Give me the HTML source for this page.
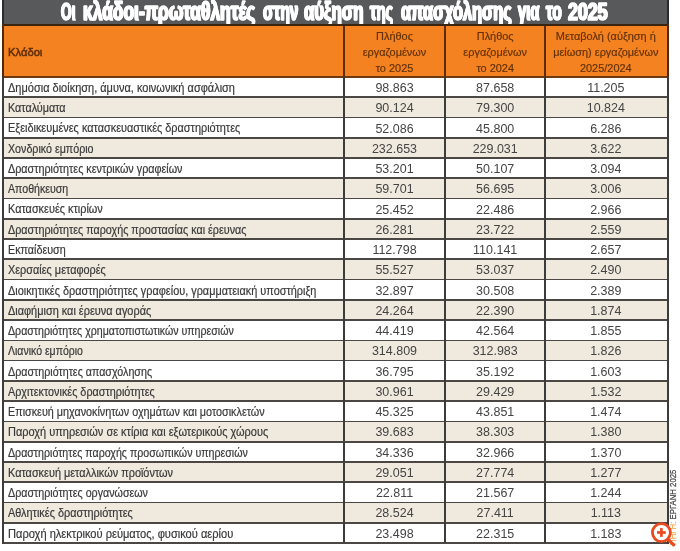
<!DOCTYPE html>
<html><head><meta charset="utf-8"><title>table</title>
<style>
html,body{margin:0;padding:0;background:#fff;}
body{filter:blur(0.45px);width:680px;height:551px;position:relative;overflow:hidden;font-family:"Liberation Sans",sans-serif;}
.a{position:absolute;}
.t{position:absolute;white-space:nowrap;color:#3a3a3a;font-size:12px;line-height:20px;height:20px;}
.l{transform-origin:0 50%;transform:scaleX(0.912);left:8px;-webkit-text-stroke:0.2px #3a3a3a;}
.n{text-align:center;transform:scaleX(1.04);color:#444;}
.h{position:absolute;white-space:nowrap;color:#63320a;font-size:11.5px;line-height:16px;text-align:center;transform:scaleX(0.95);-webkit-text-stroke:0.2px #63320a;}
.tw{top:-2.8px;height:28px;line-height:28px;white-space:nowrap;color:#fff;font-weight:bold;font-size:25px;transform-origin:0 50%;-webkit-text-stroke:1.5px #fff;text-shadow:1.1px 0 #fff,-1.1px 0 #fff;}
.ln{position:absolute;background:#4a4744;}
</style></head><body>

<div class="a" style="left:3px;top:0;width:665px;height:25px;background:#58595b"></div>
<div class="a tw" id="tw0" style="left:61.48px;transform:scaleX(0.5761)"><span style='font-size:23.5px'>Ο</span>ι</div>
<div class="a tw" id="tw1" style="left:82.56px;transform:scaleX(0.6962)">κλάδοι-πρωταθλητές</div>
<div class="a tw" id="tw2" style="left:262.67px;transform:scaleX(0.6155)">στην</div>
<div class="a tw" id="tw3" style="left:304.34px;transform:scaleX(0.6721)">αύξηση</div>
<div class="a tw" id="tw4" style="left:370.35px;transform:scaleX(0.5857)">της</div>
<div class="a tw" id="tw5" style="left:401.00px;transform:scaleX(0.6528)">απασχόλησης</div>
<div class="a tw" id="tw6" style="left:518.27px;transform:scaleX(0.5926)">για</div>
<div class="a tw" id="tw7" style="left:546.04px;transform:scaleX(0.6110)">το</div>
<div class="a tw" id="tw8" style="left:568.21px;transform:scaleX(0.7572)"><span style='font-size:23.5px'>2025</span></div>
<div class="a" style="left:3px;top:25px;width:665px;height:52px;background:#f58220"></div>
<div class="a" style="left:3px;top:77.00px;width:665px;height:20.76px;background:#fff"></div>
<div class="a" style="left:3px;top:97.26px;width:665px;height:20.76px;background:#f0e9de"></div>
<div class="a" style="left:3px;top:117.52px;width:665px;height:20.76px;background:#fff"></div>
<div class="a" style="left:3px;top:137.78px;width:665px;height:20.76px;background:#f0e9de"></div>
<div class="a" style="left:3px;top:158.04px;width:665px;height:20.76px;background:#fff"></div>
<div class="a" style="left:3px;top:178.30px;width:665px;height:20.76px;background:#f0e9de"></div>
<div class="a" style="left:3px;top:198.56px;width:665px;height:20.76px;background:#fff"></div>
<div class="a" style="left:3px;top:218.82px;width:665px;height:20.76px;background:#f0e9de"></div>
<div class="a" style="left:3px;top:239.08px;width:665px;height:20.76px;background:#fff"></div>
<div class="a" style="left:3px;top:259.34px;width:665px;height:20.76px;background:#f0e9de"></div>
<div class="a" style="left:3px;top:279.60px;width:665px;height:20.76px;background:#fff"></div>
<div class="a" style="left:3px;top:299.86px;width:665px;height:20.76px;background:#f0e9de"></div>
<div class="a" style="left:3px;top:320.12px;width:665px;height:20.76px;background:#fff"></div>
<div class="a" style="left:3px;top:340.38px;width:665px;height:20.76px;background:#f0e9de"></div>
<div class="a" style="left:3px;top:360.64px;width:665px;height:20.76px;background:#fff"></div>
<div class="a" style="left:3px;top:380.90px;width:665px;height:20.76px;background:#f0e9de"></div>
<div class="a" style="left:3px;top:401.16px;width:665px;height:20.76px;background:#fff"></div>
<div class="a" style="left:3px;top:421.42px;width:665px;height:20.76px;background:#f0e9de"></div>
<div class="a" style="left:3px;top:441.68px;width:665px;height:20.76px;background:#fff"></div>
<div class="a" style="left:3px;top:461.94px;width:665px;height:20.76px;background:#f0e9de"></div>
<div class="a" style="left:3px;top:482.20px;width:665px;height:20.76px;background:#fff"></div>
<div class="a" style="left:3px;top:502.46px;width:665px;height:20.76px;background:#f0e9de"></div>
<div class="a" style="left:3px;top:522.72px;width:665px;height:20.76px;background:#fff"></div>
<div class="ln" style="left:3px;top:23.6px;width:665px;height:2px;background:#3a2410"></div>
<div class="ln" style="left:3px;top:76.1px;width:665px;height:1.8px;background:#6e3a12"></div>
<div class="ln" style="left:3px;top:96.41px;width:665px;height:1.7px"></div>
<div class="ln" style="left:3px;top:116.67px;width:665px;height:1.7px"></div>
<div class="ln" style="left:3px;top:136.93px;width:665px;height:1.7px"></div>
<div class="ln" style="left:3px;top:157.19px;width:665px;height:1.7px"></div>
<div class="ln" style="left:3px;top:177.45px;width:665px;height:1.7px"></div>
<div class="ln" style="left:3px;top:197.71px;width:665px;height:1.7px"></div>
<div class="ln" style="left:3px;top:217.97px;width:665px;height:1.7px"></div>
<div class="ln" style="left:3px;top:238.23px;width:665px;height:1.7px"></div>
<div class="ln" style="left:3px;top:258.49px;width:665px;height:1.7px"></div>
<div class="ln" style="left:3px;top:278.75px;width:665px;height:1.7px"></div>
<div class="ln" style="left:3px;top:299.01px;width:665px;height:1.7px"></div>
<div class="ln" style="left:3px;top:319.27px;width:665px;height:1.7px"></div>
<div class="ln" style="left:3px;top:339.53px;width:665px;height:1.7px"></div>
<div class="ln" style="left:3px;top:359.79px;width:665px;height:1.7px"></div>
<div class="ln" style="left:3px;top:380.05px;width:665px;height:1.7px"></div>
<div class="ln" style="left:3px;top:400.31px;width:665px;height:1.7px"></div>
<div class="ln" style="left:3px;top:420.57px;width:665px;height:1.7px"></div>
<div class="ln" style="left:3px;top:440.83px;width:665px;height:1.7px"></div>
<div class="ln" style="left:3px;top:461.09px;width:665px;height:1.7px"></div>
<div class="ln" style="left:3px;top:481.35px;width:665px;height:1.7px"></div>
<div class="ln" style="left:3px;top:501.61px;width:665px;height:1.7px"></div>
<div class="ln" style="left:3px;top:521.87px;width:665px;height:1.7px"></div>
<div class="ln" style="left:2px;top:542px;width:667px;height:1.7px"></div>
<div class="ln" style="left:2.4px;top:0;width:2px;height:24px;background:#2c2c2c"></div>
<div class="ln" style="left:2.4px;top:24px;width:2px;height:53px;background:#50280a"></div>
<div class="ln" style="left:2.4px;top:77px;width:2px;height:466.6px;background:#3c3c3c"></div>
<div class="ln" style="left:667.2px;top:0;width:2px;height:24px;background:#2c2c2c"></div>
<div class="ln" style="left:667.2px;top:24px;width:2px;height:53px;background:#50280a"></div>
<div class="ln" style="left:667.2px;top:77px;width:2px;height:466.6px;background:#3c3c3c"></div>
<div class="ln" style="left:343.0px;top:25.6px;width:2px;height:51px;background:#5e2c04"></div>
<div class="ln" style="left:343.0px;top:77px;width:2px;height:466px;background:#3c3c3c"></div>
<div class="ln" style="left:444.0px;top:25.6px;width:2px;height:51px;background:#5e2c04"></div>
<div class="ln" style="left:444.0px;top:77px;width:2px;height:466px;background:#3c3c3c"></div>
<div class="ln" style="left:544.4px;top:25.6px;width:2px;height:51px;background:#5e2c04"></div>
<div class="ln" style="left:544.4px;top:77px;width:2px;height:466px;background:#3c3c3c"></div>
<div class="h" id="h0" style="left:8px;top:44.2px;-webkit-text-stroke:0.5px #5c2c06;transform:scaleX(0.975);transform-origin:0 50%;text-align:left">Κλάδοι</div>
<div class="h" id="h1" style="left:344px;width:101px;top:28px">Πλήθος<br>εργαζομένων<br>το 2025</div>
<div class="h" id="h2" style="left:445px;width:100.39999999999998px;top:28px">Πλήθος<br>εργαζομένων<br>το 2024</div>
<div class="h" id="h3" style="left:545.4px;width:121.60000000000002px;top:28px">Μεταβολή (αύξηση ή<br>μείωση) εργαζομένων<br>2025/2024</div>
<div class="t l" id="r0" style="top:77.90px;transform:scaleX(0.916)">Δημόσια διοίκηση, άμυνα, κοινωνική ασφάλιση</div>
<div class="t n" id="n0_0" style="top:78.00px;left:344px;width:101px">98.863</div>
<div class="t n" id="n0_1" style="top:78.00px;left:445px;width:100.39999999999998px">87.658</div>
<div class="t n" id="n0_2" style="top:78.00px;left:545.4px;width:121.60000000000002px">11.205</div>
<div class="t l" id="r1" style="top:98.16px;transform:scaleX(0.901)">Καταλύματα</div>
<div class="t n" id="n1_0" style="top:98.26px;left:344px;width:101px">90.124</div>
<div class="t n" id="n1_1" style="top:98.26px;left:445px;width:100.39999999999998px">79.300</div>
<div class="t n" id="n1_2" style="top:98.26px;left:545.4px;width:121.60000000000002px">10.824</div>
<div class="t l" id="r2" style="top:118.42px;transform:scaleX(0.9081)">Εξειδικευμένες κατασκευαστικές δραστηριότητες</div>
<div class="t n" id="n2_0" style="top:118.52px;left:344px;width:101px">52.086</div>
<div class="t n" id="n2_1" style="top:118.52px;left:445px;width:100.39999999999998px">45.800</div>
<div class="t n" id="n2_2" style="top:118.52px;left:545.4px;width:121.60000000000002px">6.286</div>
<div class="t l" id="r3" style="top:138.68px;transform:scaleX(0.8901)">Χονδρικό εμπόριο</div>
<div class="t n" id="n3_0" style="top:138.78px;left:344px;width:101px">232.653</div>
<div class="t n" id="n3_1" style="top:138.78px;left:445px;width:100.39999999999998px">229.031</div>
<div class="t n" id="n3_2" style="top:138.78px;left:545.4px;width:121.60000000000002px">3.622</div>
<div class="t l" id="r4" style="top:158.94px;transform:scaleX(0.8981)">Δραστηριότητες κεντρικών γραφείων</div>
<div class="t n" id="n4_0" style="top:159.04px;left:344px;width:101px">53.201</div>
<div class="t n" id="n4_1" style="top:159.04px;left:445px;width:100.39999999999998px">50.107</div>
<div class="t n" id="n4_2" style="top:159.04px;left:545.4px;width:121.60000000000002px">3.094</div>
<div class="t l" id="r5" style="top:179.20px;transform:scaleX(0.8841)">Αποθήκευση</div>
<div class="t n" id="n5_0" style="top:179.30px;left:344px;width:101px">59.701</div>
<div class="t n" id="n5_1" style="top:179.30px;left:445px;width:100.39999999999998px">56.695</div>
<div class="t n" id="n5_2" style="top:179.30px;left:545.4px;width:121.60000000000002px">3.006</div>
<div class="t l" id="r6" style="top:199.46px;transform:scaleX(0.9082)">Κατασκευές κτιρίων</div>
<div class="t n" id="n6_0" style="top:199.56px;left:344px;width:101px">25.452</div>
<div class="t n" id="n6_1" style="top:199.56px;left:445px;width:100.39999999999998px">22.486</div>
<div class="t n" id="n6_2" style="top:199.56px;left:545.4px;width:121.60000000000002px">2.966</div>
<div class="t l" id="r7" style="top:219.72px;transform:scaleX(0.8966)">Δραστηριότητες παροχής προστασίας και έρευνας</div>
<div class="t n" id="n7_0" style="top:219.82px;left:344px;width:101px">26.281</div>
<div class="t n" id="n7_1" style="top:219.82px;left:445px;width:100.39999999999998px">23.722</div>
<div class="t n" id="n7_2" style="top:219.82px;left:545.4px;width:121.60000000000002px">2.559</div>
<div class="t l" id="r8" style="top:239.98px;transform:scaleX(0.8965)">Εκπαίδευση</div>
<div class="t n" id="n8_0" style="top:240.08px;left:344px;width:101px">112.798</div>
<div class="t n" id="n8_1" style="top:240.08px;left:445px;width:100.39999999999998px">110.141</div>
<div class="t n" id="n8_2" style="top:240.08px;left:545.4px;width:121.60000000000002px">2.657</div>
<div class="t l" id="r9" style="top:260.24px;transform:scaleX(0.9074)">Χερσαίες μεταφορές</div>
<div class="t n" id="n9_0" style="top:260.34px;left:344px;width:101px">55.527</div>
<div class="t n" id="n9_1" style="top:260.34px;left:445px;width:100.39999999999998px">53.037</div>
<div class="t n" id="n9_2" style="top:260.34px;left:545.4px;width:121.60000000000002px">2.490</div>
<div class="t l" id="r10" style="top:280.50px;transform:scaleX(0.9073)">Διοικητικές δραστηριότητες γραφείου, γραμματειακή υποστήριξη</div>
<div class="t n" id="n10_0" style="top:280.60px;left:344px;width:101px">32.897</div>
<div class="t n" id="n10_1" style="top:280.60px;left:445px;width:100.39999999999998px">30.508</div>
<div class="t n" id="n10_2" style="top:280.60px;left:545.4px;width:121.60000000000002px">2.389</div>
<div class="t l" id="r11" style="top:300.76px;transform:scaleX(0.9101)">Διαφήμιση και έρευνα αγοράς</div>
<div class="t n" id="n11_0" style="top:300.86px;left:344px;width:101px">24.264</div>
<div class="t n" id="n11_1" style="top:300.86px;left:445px;width:100.39999999999998px">22.390</div>
<div class="t n" id="n11_2" style="top:300.86px;left:545.4px;width:121.60000000000002px">1.874</div>
<div class="t l" id="r12" style="top:321.02px;transform:scaleX(0.885)">Δραστηριότητες χρηματοπιστωτικών υπηρεσιών</div>
<div class="t n" id="n12_0" style="top:321.12px;left:344px;width:101px">44.419</div>
<div class="t n" id="n12_1" style="top:321.12px;left:445px;width:100.39999999999998px">42.564</div>
<div class="t n" id="n12_2" style="top:321.12px;left:545.4px;width:121.60000000000002px">1.855</div>
<div class="t l" id="r13" style="top:341.28px;transform:scaleX(0.8758)">Λιανικό εμπόριο</div>
<div class="t n" id="n13_0" style="top:341.38px;left:344px;width:101px">314.809</div>
<div class="t n" id="n13_1" style="top:341.38px;left:445px;width:100.39999999999998px">312.983</div>
<div class="t n" id="n13_2" style="top:341.38px;left:545.4px;width:121.60000000000002px">1.826</div>
<div class="t l" id="r14" style="top:361.54px;transform:scaleX(0.8916)">Δραστηριότητες απασχόλησης</div>
<div class="t n" id="n14_0" style="top:361.64px;left:344px;width:101px">36.795</div>
<div class="t n" id="n14_1" style="top:361.64px;left:445px;width:100.39999999999998px">35.192</div>
<div class="t n" id="n14_2" style="top:361.64px;left:545.4px;width:121.60000000000002px">1.603</div>
<div class="t l" id="r15" style="top:381.80px;transform:scaleX(0.9016)">Αρχιτεκτονικές δραστηριότητες</div>
<div class="t n" id="n15_0" style="top:381.90px;left:344px;width:101px">30.961</div>
<div class="t n" id="n15_1" style="top:381.90px;left:445px;width:100.39999999999998px">29.429</div>
<div class="t n" id="n15_2" style="top:381.90px;left:545.4px;width:121.60000000000002px">1.532</div>
<div class="t l" id="r16" style="top:402.06px;transform:scaleX(0.8994)">Επισκευή μηχανοκίνητων οχημάτων και μοτοσικλετών</div>
<div class="t n" id="n16_0" style="top:402.16px;left:344px;width:101px">45.325</div>
<div class="t n" id="n16_1" style="top:402.16px;left:445px;width:100.39999999999998px">43.851</div>
<div class="t n" id="n16_2" style="top:402.16px;left:545.4px;width:121.60000000000002px">1.474</div>
<div class="t l" id="r17" style="top:422.32px;transform:scaleX(0.9148)">Παροχή υπηρεσιών σε κτίρια και εξωτερικούς χώρους</div>
<div class="t n" id="n17_0" style="top:422.42px;left:344px;width:101px">39.683</div>
<div class="t n" id="n17_1" style="top:422.42px;left:445px;width:100.39999999999998px">38.303</div>
<div class="t n" id="n17_2" style="top:422.42px;left:545.4px;width:121.60000000000002px">1.380</div>
<div class="t l" id="r18" style="top:442.58px;transform:scaleX(0.8865)">Δραστηριότητες παροχής προσωπικών υπηρεσιών</div>
<div class="t n" id="n18_0" style="top:442.68px;left:344px;width:101px">34.336</div>
<div class="t n" id="n18_1" style="top:442.68px;left:445px;width:100.39999999999998px">32.966</div>
<div class="t n" id="n18_2" style="top:442.68px;left:545.4px;width:121.60000000000002px">1.370</div>
<div class="t l" id="r19" style="top:462.84px;transform:scaleX(0.9081)">Κατασκευή μεταλλικών προϊόντων</div>
<div class="t n" id="n19_0" style="top:462.94px;left:344px;width:101px">29.051</div>
<div class="t n" id="n19_1" style="top:462.94px;left:445px;width:100.39999999999998px">27.774</div>
<div class="t n" id="n19_2" style="top:462.94px;left:545.4px;width:121.60000000000002px">1.277</div>
<div class="t l" id="r20" style="top:483.10px;transform:scaleX(0.8904)">Δραστηριότητες οργανώσεων</div>
<div class="t n" id="n20_0" style="top:483.20px;left:344px;width:101px">22.811</div>
<div class="t n" id="n20_1" style="top:483.20px;left:445px;width:100.39999999999998px">21.567</div>
<div class="t n" id="n20_2" style="top:483.20px;left:545.4px;width:121.60000000000002px">1.244</div>
<div class="t l" id="r21" style="top:503.36px;transform:scaleX(0.9076)">Αθλητικές δραστηριότητες</div>
<div class="t n" id="n21_0" style="top:503.46px;left:344px;width:101px">28.524</div>
<div class="t n" id="n21_1" style="top:503.46px;left:445px;width:100.39999999999998px">27.411</div>
<div class="t n" id="n21_2" style="top:503.46px;left:545.4px;width:121.60000000000002px">1.113</div>
<div class="t l" id="r22" style="top:523.62px;transform:scaleX(0.9235)">Παροχή ηλεκτρικού ρεύματος, φυσικού αερίου</div>
<div class="t n" id="n22_0" style="top:523.72px;left:344px;width:101px">23.498</div>
<div class="t n" id="n22_1" style="top:523.72px;left:445px;width:100.39999999999998px">22.315</div>
<div class="t n" id="n22_2" style="top:523.72px;left:545.4px;width:121.60000000000002px">1.183</div>
<div class="a" id="src" style="left:668.4px;top:544.5px;-webkit-text-stroke:0.25px;font-size:9.5px;line-height:9px;height:9px;white-space:nowrap;transform-origin:0 0;transform:rotate(-90deg) scaleX(0.82);color:#444"><span style="color:#f7a04a">ΠΗΓΗ:</span> ΕΡΓΑΝΗ 2025</div>
<svg class="a" style="left:645px;top:516px" width="35" height="35" viewBox="645 516 35 35">
<line x1="668.6" y1="539.8" x2="673.6" y2="544.8" stroke="#ea4a1f" stroke-width="3.3" stroke-linecap="round"/>
<circle cx="661.4" cy="532.6" r="9" fill="#fff" stroke="#ea4a1f" stroke-width="2.8"/>
<line x1="657" y1="532.5" x2="665.8" y2="532.5" stroke="#ea4a1f" stroke-width="2.7"/>
<line x1="661.4" y1="528.1" x2="661.4" y2="536.9" stroke="#ea4a1f" stroke-width="2.7"/>
</svg>
</body></html>
